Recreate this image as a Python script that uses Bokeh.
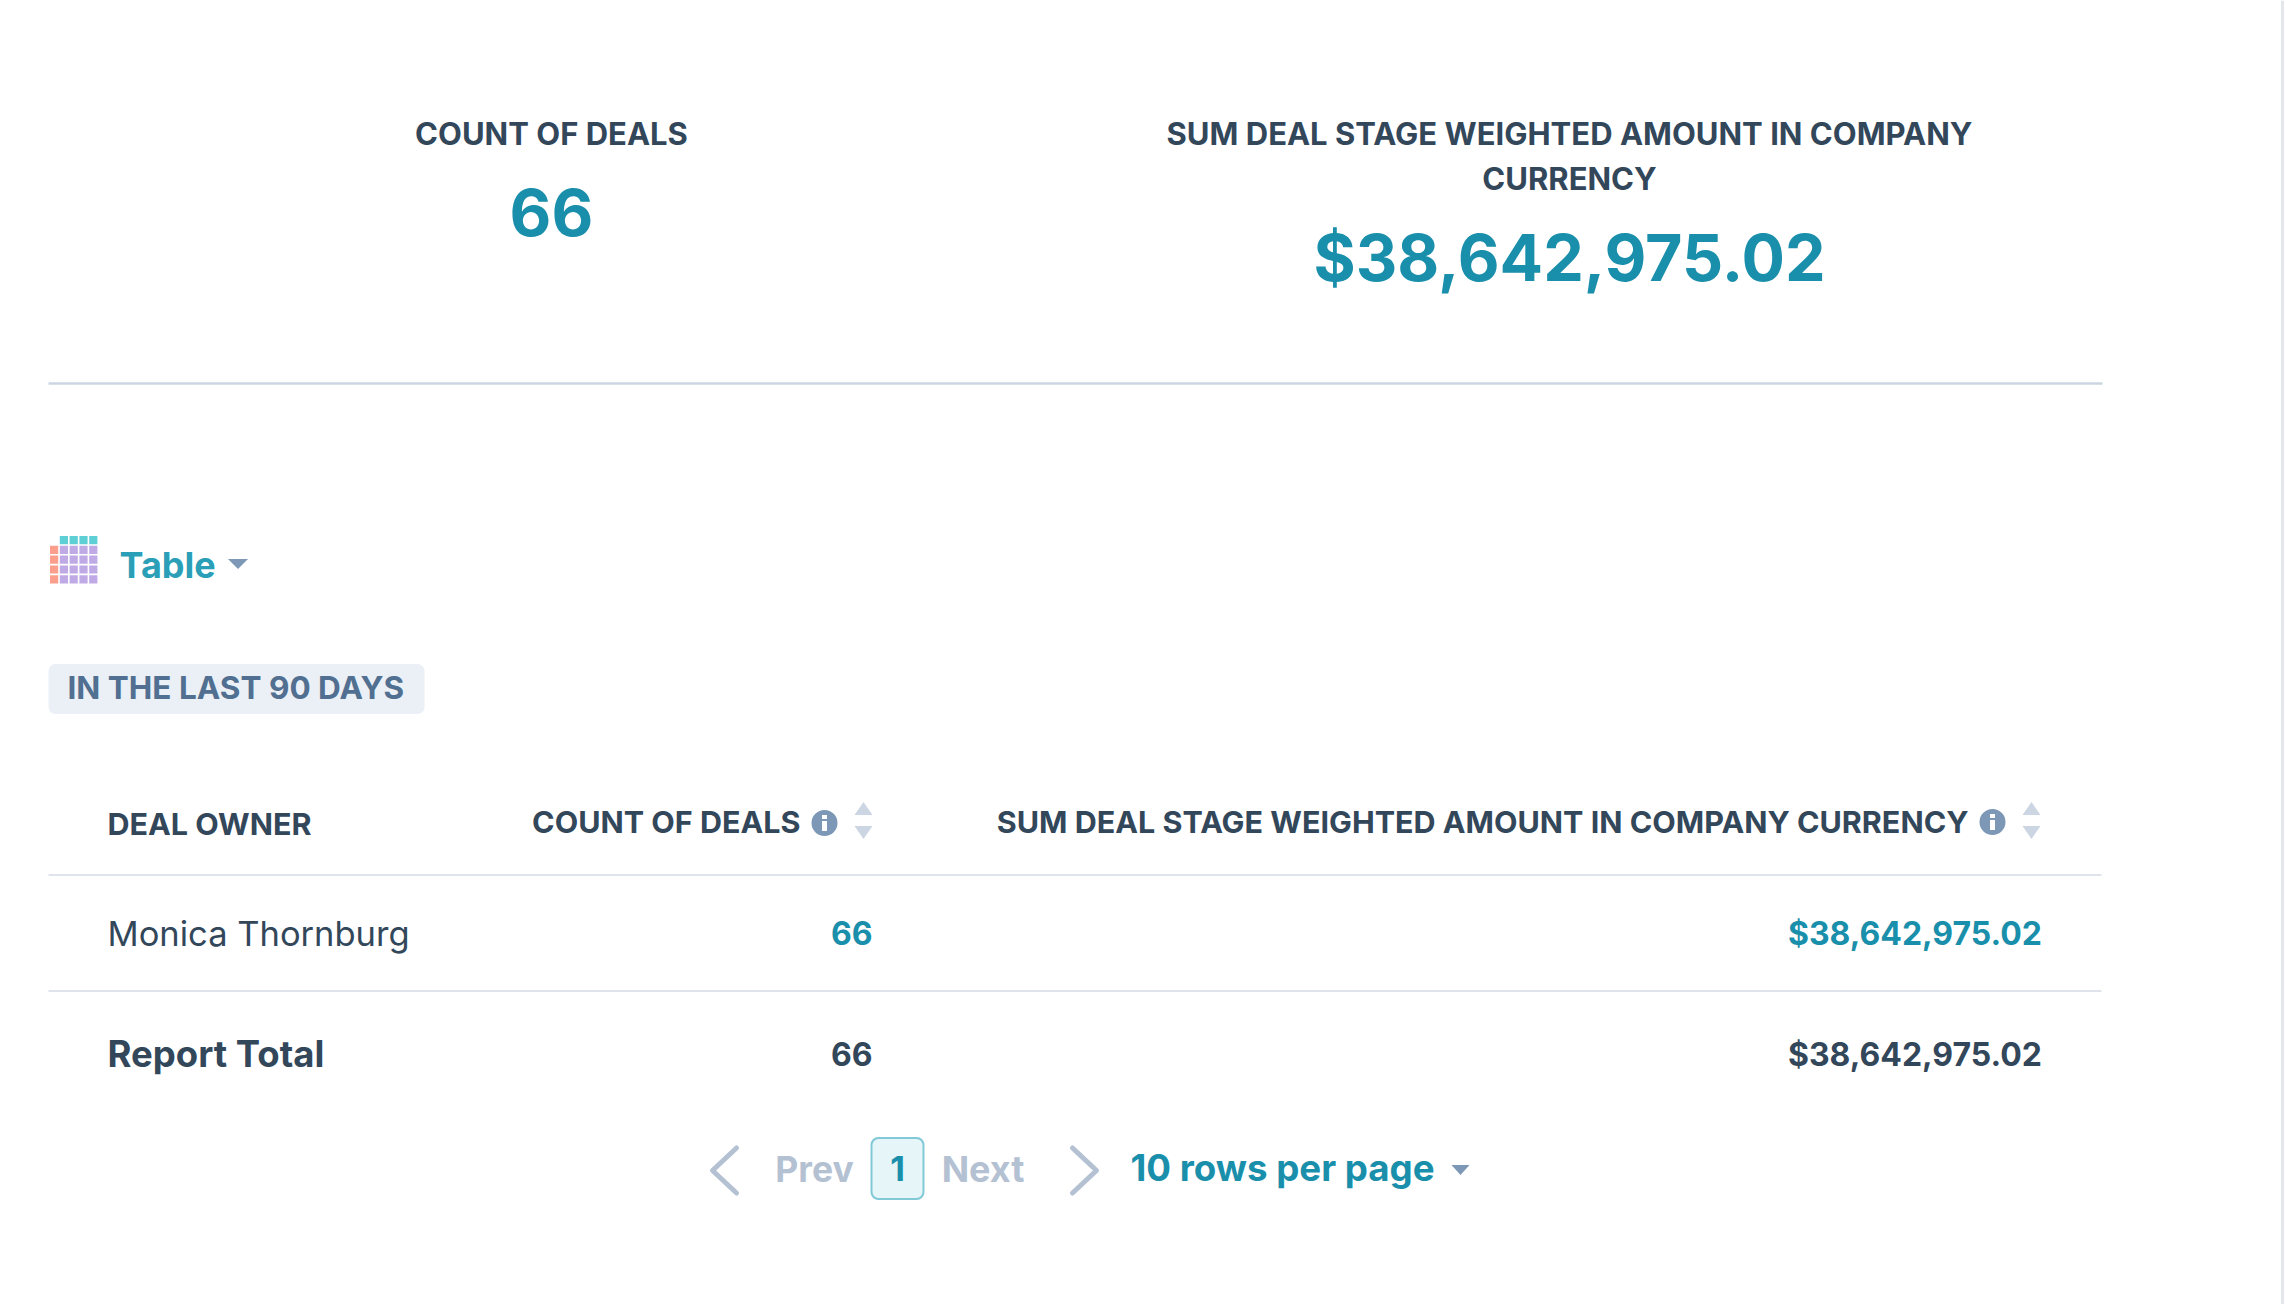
from bokeh.plotting import figure
from bokeh.models import Range1d
from bokeh.core.properties import value
from bokeh.embed import file_html
from bokeh.resources import INLINE

# ---- content ----
metric_titles = ["COUNT OF DEALS", "SUM DEAL STAGE WEIGHTED AMOUNT IN COMPANY", "CURRENCY"]
metric_values = ["66", "$38,642,975.02"]
view_label = "Table"
filter_label = "IN THE LAST 90 DAYS"
columns = ["DEAL OWNER", "COUNT OF DEALS", "SUM DEAL STAGE WEIGHTED AMOUNT IN COMPANY CURRENCY"]
owners = ["Monica Thornburg"]
deal_counts = ["66"]
amounts = ["$38,642,975.02"]
total_label = "Report Total"
total_count = "66"
total_amount = "$38,642,975.02"
pager = ["Prev", "1", "Next", "10 rows per page"]

FONT = "Inter"
DARK = "#33475b"
TEAL = "#1a8fab"
TEAL2 = "#2a9fb7"
MUTED = "#b4c1d2"
OX, OY = 0, 1.5

W, H = 2286, 1304
p = figure(width=W, height=H, output_backend="svg", toolbar_location=None,
           x_range=Range1d(OX, OX + W), y_range=Range1d(OY + H, OY),
           x_axis_type="linear", min_border=0)
p.axis.visible = False
p.grid.visible = False
p.outline_line_color = None
p.background_fill_color = "white"
p.border_fill_color = "white"


def txt(x, y, s, size, color, bold=False, align="left"):
    p.text([x], [y], text=[s], text_font=value(FONT), text_font_size=f"{size}px",
           text_color=color, text_font_style="bold" if bold else "normal",
           text_align=align, text_baseline="middle")


def hline(x0, x1, y, color, w):
    p.segment([x0], [y], [x1], [y], line_color=color, line_width=w)


def tri(cx, y_base, y_tip, half, color):
    p.patch([cx - half, cx + half, cx], [y_base, y_base, y_tip], fill_color=color, line_color=None)


def chevron(xtip, xend, y0, y1, color):
    p.line([xend, xtip, xend], [y0, (y0 + y1) / 2, y1], line_color=color, line_width=5,
           line_cap="round", line_join="round")


def info(cx, cy):
    p.circle([cx], [cy], radius=13, fill_color="#7c98b6", line_color=None)
    p.quad(left=[cx - 2.5], right=[cx + 2.5], top=[cy - 2], bottom=[cy + 8], fill_color="white", line_color=None)
    p.quad(left=[cx - 2.5], right=[cx + 2.5], top=[cy - 8], bottom=[cy - 4], fill_color="white", line_color=None)


def sort_arrows(cx, cy):
    tri(cx, cy - 7, cy - 20, 9, "#cbd6e2")
    tri(cx, cy + 4, cy + 17, 9, "#cbd6e2")


# KPI block
txt(551, 134.5, metric_titles[0], 31, DARK, True, "center")
txt(551, 213.5, metric_values[0], 64.5, TEAL, True, "center")
txt(1569, 134.5, metric_titles[1], 31, DARK, True, "center")
txt(1569, 179.5, metric_titles[2], 31, DARK, True, "center")
txt(1569, 259, metric_values[1], 64.5, TEAL, True, "center")
hline(48, 2102, 384.5, "#cbd6e2", 2.5)

# table icon
for c in range(5):
    for r in range(5):
        if r == 0 and c == 0:
            continue
        col = "#5fcfd6" if r == 0 else ("#fb9f8c" if c == 0 else "#bfaae6")
        x0 = 49.5 + c * 9.8
        y0 = 537 + r * 9.8
        p.quad(left=[x0], right=[x0 + 8.2], top=[y0], bottom=[y0 + 8.2], fill_color=col, line_color=None)
txt(119, 566, view_label, 36, TEAL2, True)
tri(237.5, 560, 570, 10, "#7c98b6")

# filter tag
p.quad(left=[48], right=[424], top=[665], bottom=[715], fill_color="#eaf0f6", line_color=None, border_radius=7)
txt(67, 688, filter_label, 31.5, "#516f90", True)

# header
txt(107, 824.5, columns[0], 30.5, DARK, True)
txt(800, 822.5, columns[1], 30.5, DARK, True, "right")
info(824, 824)
sort_arrows(863, 823)
txt(1968, 822.5, columns[2], 30.5, DARK, True, "right")
info(1992, 823)
sort_arrows(2031, 823)
hline(48, 2101, 876, "#dfe3eb", 2)

# row
txt(107, 934, owners[0], 34.5, DARK)
txt(872, 934, deal_counts[0], 32, TEAL, True, "right")
txt(2041.5, 934, amounts[0], 32, TEAL, True, "right")
hline(48, 2101, 992, "#dfe3eb", 2)

# total
txt(107, 1055, total_label, 36.5, DARK, True)
txt(872, 1055, total_count, 32, DARK, True, "right")
txt(2041.5, 1055, total_amount, 32, DARK, True, "right")

# pagination
chevron(712, 736, 1149, 1194, MUTED)
txt(814, 1170, pager[0], 35.5, MUTED, True, "center")
p.quad(left=[871], right=[923], top=[1139], bottom=[1200], fill_color="#e5f5f8", line_color="#81c9d6",
       line_width=2, border_radius=7)
txt(897, 1169, pager[1], 34, TEAL, True, "center")
txt(982.5, 1170, pager[2], 36, MUTED, True, "center")
chevron(1096, 1072, 1149, 1194, MUTED)
txt(1130, 1168, pager[3], 36.7, TEAL, True)
tri(1460, 1166, 1176, 9, "#7c98b6")

# page edge
p.segment([2282], [OY], [2282], [OY + H], line_color="#e3e6ea", line_width=3)

open("out.html", "w").write(file_html(p, INLINE))
